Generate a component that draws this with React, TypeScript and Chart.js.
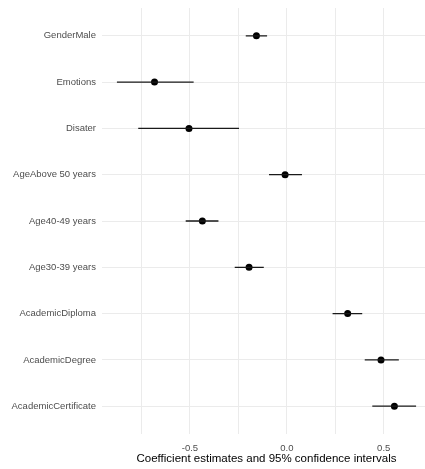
import React, { useEffect, useRef } from "react";
import { Chart, registerables } from "chart.js";

Chart.register(...registerables);

const terms = [
  "GenderMale",
  "Emotions",
  "Disater",
  "AgeAbove 50 years",
  "Age40-49 years",
  "Age30-39 years",
  "AcademicDiploma",
  "AcademicDegree",
  "AcademicCertificate",
];
const estimates = [-0.157, -0.683, -0.505, -0.009, -0.436, -0.195, 0.314, 0.486, 0.555];
const lowerCI = [-0.212, -0.877, -0.767, -0.092, -0.522, -0.269, 0.236, 0.402, 0.441];
const upperCI = [-0.102, -0.481, -0.247, 0.078, -0.353, -0.119, 0.389, 0.578, 0.667];
const xGridValues = [-0.75, -0.5, -0.25, 0, 0.25, 0.5];
const xLabelValues = [-0.5, 0, 0.5];
const xTitle = "Coefficient estimates and 95% confidence intervals";

export default function App() {
  const canvasRef = useRef<HTMLCanvasElement | null>(null);

  useEffect(() => {
    const canvas = canvasRef.current;
    if (!canvas) return;

    const points = terms.map((_, i) => ({ x: estimates[i], y: i + 1 }));
    const segs: { x: number; y: number }[] = [];
    terms.forEach((_, i) => {
      segs.push({ x: lowerCI[i], y: i + 1 });
      segs.push({ x: upperCI[i], y: i + 1 });
      segs.push({ x: NaN, y: NaN });
    });

    const zeroPad = (scale: any) => {
      scale.paddingLeft = 0;
      scale.paddingRight = 0;
      scale.paddingTop = 0;
      scale.paddingBottom = 0;
    };

    const chart = new Chart(canvas, {
      type: "scatter",
      data: {
        datasets: [
          {
            type: "line",
            data: segs,
            borderColor: "#1a1a1a",
            borderWidth: 1.3,
            pointRadius: 0,
            spanGaps: false,
            fill: false,
          } as any,
          {
            type: "scatter",
            data: points,
            backgroundColor: "#000000",
            borderColor: "#000000",
            pointRadius: 3.5,
            borderWidth: 0,
          },
        ],
      },
      options: {
        animation: false,
        responsive: true,
        maintainAspectRatio: false,
        devicePixelRatio: 1,
        layout: { padding: { top: 8, right: 0, left: 0, bottom: 0 } },
        plugins: { legend: { display: false }, tooltip: { enabled: false } },
        scales: {
          x: {
            type: "linear",
            min: -0.954,
            max: 0.744,
            border: { display: false },
            grid: { color: "#EBEBEB", lineWidth: 1, drawTicks: false },
            afterBuildTicks: (scale: any) => {
              scale.ticks = xGridValues.map((v) => ({ value: v }));
            },
            afterFit: (scale: any) => {
              scale.height = 35;
              zeroPad(scale);
            },
            ticks: {
              padding: 9,
              color: "#4D4D4D",
              font: { family: "Liberation Sans, Arial, sans-serif", size: 9.5 },
              maxRotation: 0,
              autoSkip: false,
              callback: (v: any) =>
                xLabelValues.some((m) => Math.abs(m - v) < 1e-9) ? Number(v).toFixed(1) : "",
            },
            title: {
              display: true,
              text: xTitle,
              color: "#000000",
              font: { family: "Liberation Sans, Arial, sans-serif", size: 11.5 },
              padding: { top: 0, bottom: 3 },
            },
          },
          y: {
            type: "linear",
            min: 0.4,
            max: 9.6,
            reverse: true,
            border: { display: false },
            grid: { color: "#EBEBEB", lineWidth: 1, drawTicks: false },
            afterBuildTicks: (scale: any) => {
              scale.ticks = terms.map((_, i) => ({ value: i + 1 }));
            },
            afterFit: (scale: any) => {
              scale.width = 102;
              zeroPad(scale);
            },
            ticks: {
              padding: 6,
              color: "#4D4D4D",
              autoSkip: false,
              font: { family: "Liberation Sans, Arial, sans-serif", size: 9.5 },
              callback: (v: any) => terms[Math.round(Number(v)) - 1] ?? "",
            },
          },
        },
      },
    });

    return () => chart.destroy();
  }, []);

  return (
    <div
      style={{
        position: "fixed",
        left: 0,
        top: 0,
        width: 425,
        height: 469,
        overflow: "hidden",
        background: "#ffffff",
      }}
    >
      <div style={{ position: "relative", width: 435, height: 469 }}>
        <canvas ref={canvasRef} />
      </div>
    </div>
  );
}
